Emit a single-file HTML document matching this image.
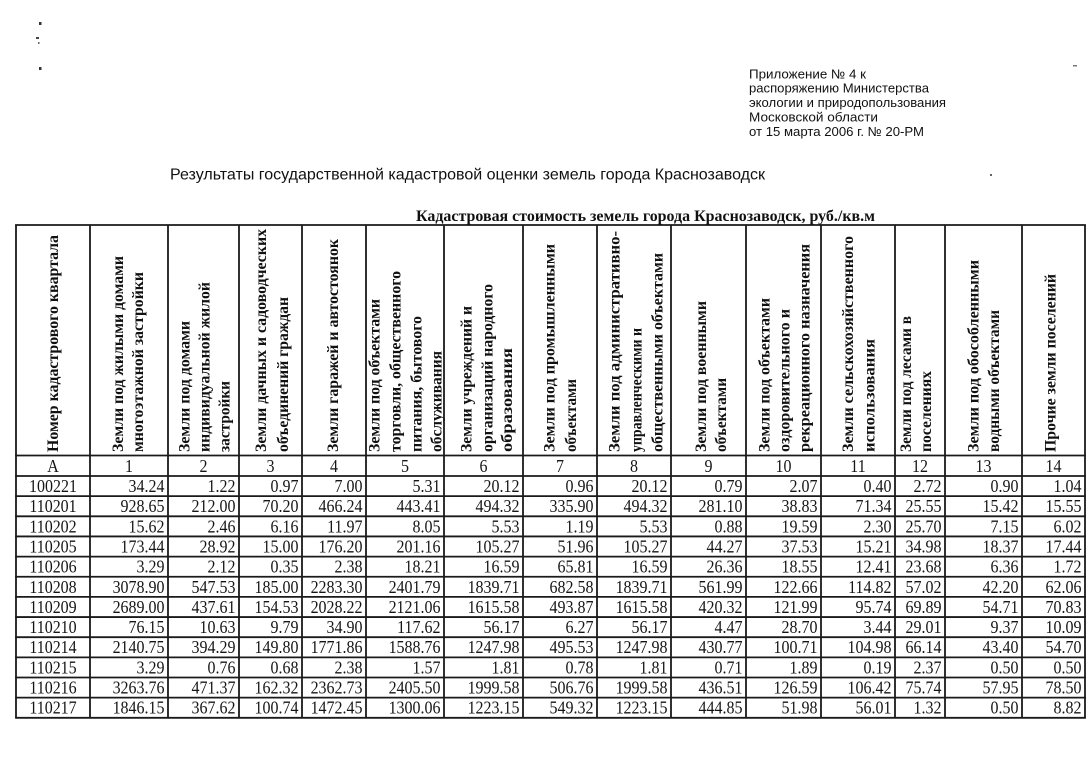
<!DOCTYPE html>
<html lang="ru">
<head>
<meta charset="utf-8">
<style>
  html, body { margin: 0; padding: 0; background: #fff; }
  svg { display: block; }
  .sans { font-family: "Liberation Sans", "DejaVu Sans", sans-serif; fill: #111; }
  .serif { font-family: "Liberation Serif", "DejaVu Serif", serif; fill: #111; }
  .hb { font-family: "Liberation Serif", "DejaVu Serif", serif; font-weight: bold; font-size: 16px; fill: #111; }
  .d { font-family: "Liberation Serif", "DejaVu Serif", serif; font-size: 16px; fill: #151515; }
</style>
</head>
<body>
<svg id="s" xmlns="http://www.w3.org/2000/svg" width="1090" height="759" viewBox="0 0 1090 759">
  <rect width="1090" height="759" fill="#fff"/>
  <!-- stray scan marks -->
  <rect x="39" y="22" width="2.5" height="3" fill="#333"/>
  <rect x="36" y="37" width="3" height="2" fill="#444"/>
  <rect x="38" y="42" width="1.5" height="2" fill="#666"/>
  <rect x="39" y="67" width="2.5" height="3" fill="#333"/>
  <rect x="1073" y="65" width="4" height="1.5" fill="#777"/>
  <rect x="990" y="174" width="2" height="2" fill="#666"/>

  <!-- top right block -->
  <g class="sans" font-size="13">
    <text x="749" y="78.3" textLength="117" lengthAdjust="spacingAndGlyphs">Приложение № 4 к</text>
    <text x="749" y="92.7" textLength="180" lengthAdjust="spacingAndGlyphs">распоряжению Министерства</text>
    <text x="749" y="107.2" textLength="197" lengthAdjust="spacingAndGlyphs">экологии и природопользования</text>
    <text x="749" y="121.6" textLength="129" lengthAdjust="spacingAndGlyphs">Московской области</text>
    <text x="749" y="136" textLength="175" lengthAdjust="spacingAndGlyphs">от 15 марта 2006 г. № 20-РМ</text>
  </g>

  <!-- main title -->
  <text class="sans" font-size="16" x="170" y="179.5" textLength="595" lengthAdjust="spacingAndGlyphs">Результаты государственной кадастровой оценки земель города Краснозаводск</text>

  <!-- table caption -->
  <text class="serif" font-weight="bold" font-size="16" x="416" y="221" textLength="459" lengthAdjust="spacingAndGlyphs">Кадастровая стоимость земель города Краснозаводск, руб./кв.м</text>

  <g id="grid" stroke="#1a1a1a" stroke-width="1.8" fill="none"></g>
  <g id="head"></g>
  <g id="body"></g>
</svg>

<script>
(function(){
  var NS = "http://www.w3.org/2000/svg";
  var xs = [16, 90, 168, 239, 302, 366, 444, 523, 597, 671, 746, 821, 895, 945, 1022, 1085];
  var top = 225, hdrB = 455.5, aB = 476, rowH = 20.15, nRows = 12;
  var bottom = aB + rowH * nRows;
  var grid = document.getElementById("grid");
  function line(x1,y1,x2,y2){
    var l = document.createElementNS(NS,"line");
    l.setAttribute("x1",x1); l.setAttribute("y1",y1);
    l.setAttribute("x2",x2); l.setAttribute("y2",y2);
    grid.appendChild(l);
  }
  xs.forEach(function(x){ line(x, top, x, bottom); });
  var hy = [top, hdrB, aB];
  for (var i=1;i<=nRows;i++) hy.push(aB + rowH*i);
  hy.forEach(function(y){ line(xs[0]-0.9, y, xs[xs.length-1]+0.9, y); });

  // rotated header text: [text, centerX, length]
  var H = [
    ["Номер кадастрового квартала", 53.3, 217],
    ["Земли под жилыми домами", 118.3, 196], ["многоэтажной застройки", 138.3, 180],
    ["Земли под домами", 185, 131], ["индивидуальной жилой", 205, 170], ["застройки", 225, 71],
    ["Земли дачных и садоводческих", 261.7, 223], ["объединений граждан", 283.3, 155],
    ["Земли гаражей и автостоянок", 333.3, 213],
    ["Земли под объектами", 375, 153], ["торговли, общественного", 396, 181], ["питания, бытового", 417, 136], ["обслуживания", 437, 101],
    ["Земли учреждений и", 467, 146], ["организаций народного", 488, 168], ["образования", 507.5, 104],
    ["Земли под промышленными", 550, 208], ["объектами", 571.5, 73],
    ["Земли под административно-", 615, 221], ["управленческими и", 637, 124], ["общественными объектами", 658, 199],
    ["Земли под военными", 701.7, 151], ["объектами", 721.7, 74],
    ["Земли под объектами", 765, 154], ["оздоровительного и", 785, 143], ["рекреационного назначения", 805, 208],
    ["Земли сельскохозяйственного", 848.3, 216], ["использования", 870, 113],
    ["Земли под лесами в", 906.7, 136], ["поселениях", 926.7, 81],
    ["Земли под обособленными", 974, 192], ["водными объектами", 994.5, 142],
    ["Прочие земли поселений", 1051, 178]
  ];
  var head = document.getElementById("head");
  H.forEach(function(h){
    var t = document.createElementNS(NS,"text");
    t.setAttribute("class","hb");
    t.setAttribute("transform","translate(" + (h[1]+4.5) + ",452) rotate(-90)");
    t.setAttribute("x","0"); t.setAttribute("y","0");
    t.setAttribute("textLength", h[2]);
    t.setAttribute("lengthAdjust","spacingAndGlyphs");
    t.textContent = h[0];
    head.appendChild(t);
  });

  var body = document.getElementById("body");
  function txt(x,y,s,anchor){
    var t = document.createElementNS(NS,"text");
    t.setAttribute("class","d");
    t.setAttribute("transform","translate(" + x + "," + y + ") scale(1,1.1)");
    t.setAttribute("x",0); t.setAttribute("y",0);
    t.setAttribute("text-anchor",anchor);
    t.textContent = s;
    body.appendChild(t);
  }
  // A row
  var labels = ["А","1","2","3","4","5","6","7","8","9","10","11","12","13","14"];
  labels.forEach(function(s,i){ txt((xs[i]+xs[i+1])/2, 472, s, "middle"); });

  var D = [
    ["100221","34.24","1.22","0.97","7.00","5.31","20.12","0.96","20.12","0.79","2.07","0.40","2.72","0.90","1.04"],
    ["110201","928.65","212.00","70.20","466.24","443.41","494.32","335.90","494.32","281.10","38.83","71.34","25.55","15.42","15.55"],
    ["110202","15.62","2.46","6.16","11.97","8.05","5.53","1.19","5.53","0.88","19.59","2.30","25.70","7.15","6.02"],
    ["110205","173.44","28.92","15.00","176.20","201.16","105.27","51.96","105.27","44.27","37.53","15.21","34.98","18.37","17.44"],
    ["110206","3.29","2.12","0.35","2.38","18.21","16.59","65.81","16.59","26.36","18.55","12.41","23.68","6.36","1.72"],
    ["110208","3078.90","547.53","185.00","2283.30","2401.79","1839.71","682.58","1839.71","561.99","122.66","114.82","57.02","42.20","62.06"],
    ["110209","2689.00","437.61","154.53","2028.22","2121.06","1615.58","493.87","1615.58","420.32","121.99","95.74","69.89","54.71","70.83"],
    ["110210","76.15","10.63","9.79","34.90","117.62","56.17","6.27","56.17","4.47","28.70","3.44","29.01","9.37","10.09"],
    ["110214","2140.75","394.29","149.80","1771.86","1588.76","1247.98","495.53","1247.98","430.77","100.71","104.98","66.14","43.40","54.70"],
    ["110215","3.29","0.76","0.68","2.38","1.57","1.81","0.78","1.81","0.71","1.89","0.19","2.37","0.50","0.50"],
    ["110216","3263.76","471.37","162.32","2362.73","2405.50","1999.58","506.76","1999.58","436.51","126.59","106.42","75.74","57.95","78.50"],
    ["110217","1846.15","367.62","100.74","1472.45","1300.06","1223.15","549.32","1223.15","444.85","51.98","56.01","1.32","0.50","8.82"]
  ];
  D.forEach(function(r,k){
    var y = aB + rowH*k + 16;
    r.forEach(function(s,i){
      if (i===0) txt((xs[0]+xs[1])/2, y, s, "middle");
      else txt(xs[i+1]-3.5, y, s, "end");
    });
  });
})();
</script>
</body>
</html>
